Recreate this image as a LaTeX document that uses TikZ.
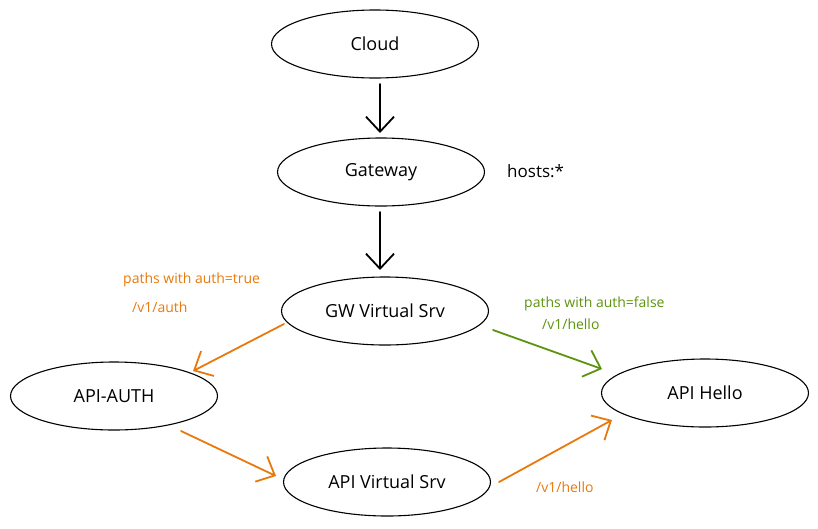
\documentclass[tikz,border=0pt]{standalone}
\usepackage{fontspec}
\setmainfont{Open Sans}
\usetikzlibrary{shapes.geometric,arrows.meta}
\definecolor{exorange}{HTML}{E8790C}
\definecolor{exgreen}{HTML}{5C940D}
\tikzset{
  ell/.style={draw=black, line width=1.1pt, ellipse, inner sep=0pt,
    minimum width=207pt, minimum height=68pt, font=\fontsize{18}{21}\selectfont},
  conn/.style={line width=1.8pt, line cap=round, -{Straight Barb[length=15pt, width=28pt, line width=1.8pt]}},
  lbl/.style={font=\fontsize{14}{16}\selectfont, inner sep=0pt, anchor=west}
}
\begin{document}
\begin{tikzpicture}[x=1pt, y=-1pt]
\useasboundingbox (0,0) rectangle (818,528);
\node[ell] (cloud) at (375,44) {Cloud};
\node[ell] (gateway) at (381,172) {Gateway};
\node[ell] (gw) at (385,311) {GW Virtual Srv};
\node[ell] (auth) at (114,396) {API-AUTH};
\node[ell] (avs) at (387,482) {API Virtual Srv};
\node[ell] (hello) at (705,393) {API Hello};

\node[lbl, font=\fontsize{17}{20}\selectfont] (hosts) at (507,171) {hosts:*};
\node[lbl, text=exorange] (pt) at (123,280) {paths with auth=true};
\node[lbl, text=exorange] (pta) at (132,307) {/v1/auth};
\node[lbl, text=exgreen] (pf) at (524,304) {paths with auth=false};
\node[lbl, text=exgreen] (pfh) at (542,324) {/v1/hello};
\node[lbl, text=exorange] (ph) at (536,487) {/v1/hello};

\draw[conn, black] ([shift={(5,40)}]cloud.center) -- ([shift={(-1,-39)}]gateway.center);
\draw[conn, black] ([shift={(-1,40)}]gateway.center) -- ([shift={(-5,-41)}]gw.center);
\draw[conn, exorange] ([shift={(-101,13)}]gw.center) -- ([shift={(79,-25)}]auth.center);
\draw[conn, exgreen] ([shift={(108,19)}]gw.center) -- ([shift={(-103,-24)}]hello.center);
\draw[conn, exorange] ([shift={(67,35)}]auth.center) -- ([shift={(-111,-6)}]avs.center);
\draw[conn, exorange] ([shift={(112,0)}]avs.center) -- ([shift={(-93,27)}]hello.center);
\end{tikzpicture}
\end{document}
